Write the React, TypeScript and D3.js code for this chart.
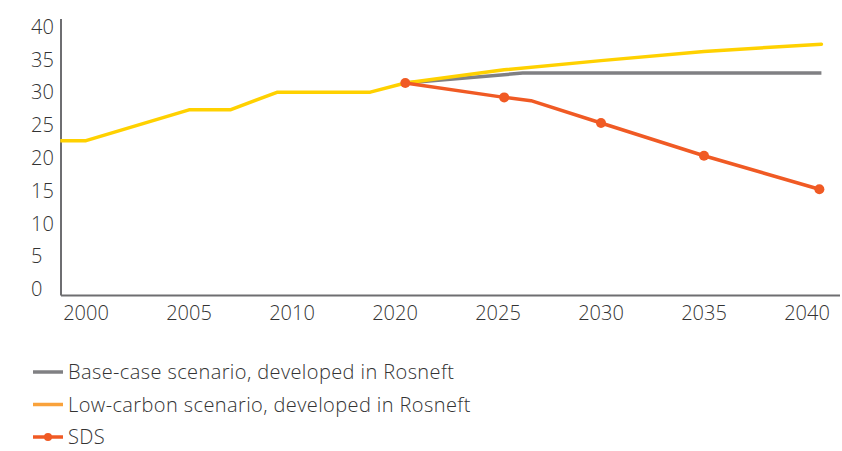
import * as d3 from 'd3';

// x axis labels (the axis is evenly spaced per label, not per year)
const xTickLabels = [2000, 2005, 2010, 2020, 2025, 2030, 2035, 2040];
const yTicks = [0, 5, 10, 15, 20, 25, 30, 35, 40];

// historical part (drawn in yellow)
const historyYears = [1998.75, 2000, 2005, 2007, 2009.3, 2017.6, 2020.5];
const historyValues = [22.6, 22.6, 27.3, 27.3, 30, 30, 31.4];

// scenarios
const baseYears = [2020.5, 2026.2, 2040.7];
const baseValues = [31.4, 32.9, 32.9];

const lowCarbonYears = [2020.5, 2025.3, 2030, 2035, 2040.7];
const lowCarbonValues = [31.4, 33.4, 34.8, 36.2, 37.3];

const sdsYears = [2020.5, 2025.3, 2026.6, 2030, 2035, 2040.6];
const sdsValues = [31.4, 29.2, 28.7, 25.3, 20.3, 15.2];
const sdsMarkerYears = [2020.5, 2025.3, 2030, 2035, 2040.6];
const sdsMarkerValues = [31.4, 29.2, 25.3, 20.3, 15.2];

const legendLabels = [
  'Base-case scenario, developed in Rosneft',
  'Low-carbon scenario, developed in Rosneft',
  'SDS',
];

const GRAY = '#808083';
const YELLOW = '#FFD100';
const ORANGE_LEGEND = '#F9A23B';
const RED = '#F05A24';
const AXIS = '#6e6e71';
const TEXT = '#333333';
const FONT = '"Open Sans", Lato, sans-serif';

export default function App(): JSX.Element {
  const width = 842;
  const height = 451;

  // piecewise scale: each label gets the same spacing
  const x = d3
    .scaleLinear()
    .domain(xTickLabels)
    .range(xTickLabels.map((_, i) => 86 + i * 103));

  const y = d3.scaleLinear().domain([0, 40]).range([289, 26.5]);

  const line = d3
    .line<[number, number]>()
    .x((d) => x(d[0]))
    .y((d) => y(d[1]));

  const zip = (a: number[], b: number[]) => a.map((v, i) => [v, b[i]] as [number, number]);

  const axisLeftX = 61;
  const axisBottomY = y(0) + 6.5;

  const legendColors = [GRAY, ORANGE_LEGEND, RED];

  return (
    <svg
      width={width}
      height={height}
      viewBox={`0 0 ${width} ${height}`}
      style={{ position: 'absolute', left: 0, top: 0, background: '#fff' }}
    >
      {/* axes */}
      <line x1={axisLeftX} x2={axisLeftX} y1={y(40) - 7.5} y2={axisBottomY} stroke={AXIS} strokeWidth={2} />
      <line x1={axisLeftX} x2={840} y1={axisBottomY} y2={axisBottomY} stroke={AXIS} strokeWidth={2} />

      {yTicks.map((t) => (
        <text
          key={t}
          x={31}
          y={y(t)}
          dy="0.36em"
          fontFamily={FONT}
          fontWeight={300}
          fontSize={20}
          fill={TEXT}
        >
          {t}
        </text>
      ))}

      {xTickLabels.map((t) => (
        <text
          key={t}
          x={x(t)}
          y={312.5}
          dy="0.36em"
          textAnchor="middle"
          fontFamily={FONT}
          fontWeight={300}
          fontSize={20}
          fill={TEXT}
        >
          {t}
        </text>
      ))}

      {/* series */}
      <path d={line(zip(baseYears, baseValues)) ?? ''} fill="none" stroke={GRAY} strokeWidth={3.5} strokeLinejoin="round" />
      <path
        d={line(zip(historyYears, historyValues)) ?? ''}
        fill="none"
        stroke={YELLOW}
        strokeWidth={3.5}
        strokeLinejoin="round"
      />
      <path
        d={line(zip(lowCarbonYears, lowCarbonValues)) ?? ''}
        fill="none"
        stroke={YELLOW}
        strokeWidth={3.5}
        strokeLinejoin="round"
        strokeLinecap="round"
      />
      <path
        d={line(zip(sdsYears, sdsValues)) ?? ''}
        fill="none"
        stroke={RED}
        strokeWidth={3.5}
        strokeLinejoin="round"
      />
      {sdsMarkerYears.map((yr, i) => (
        <circle key={yr} cx={x(yr)} cy={y(sdsMarkerValues[i])} r={5} fill={RED} />
      ))}

      {/* legend */}
      {legendLabels.map((label, i) => {
        const cy = 372 + i * 32.5;
        return (
          <g key={label}>
            <line x1={33} x2={63} y1={cy} y2={cy} stroke={legendColors[i]} strokeWidth={3.5} />
            {i === 2 && <circle cx={48} cy={cy} r={4} fill={RED} />}
            <text
              x={68}
              y={cy}
              dy="0.36em"
              fontFamily={FONT}
              fontWeight={300}
              fontSize={20}
              letterSpacing={0.4}
              fill={TEXT}
            >
              {label}
            </text>
          </g>
        );
      })}
    </svg>
  );
}
